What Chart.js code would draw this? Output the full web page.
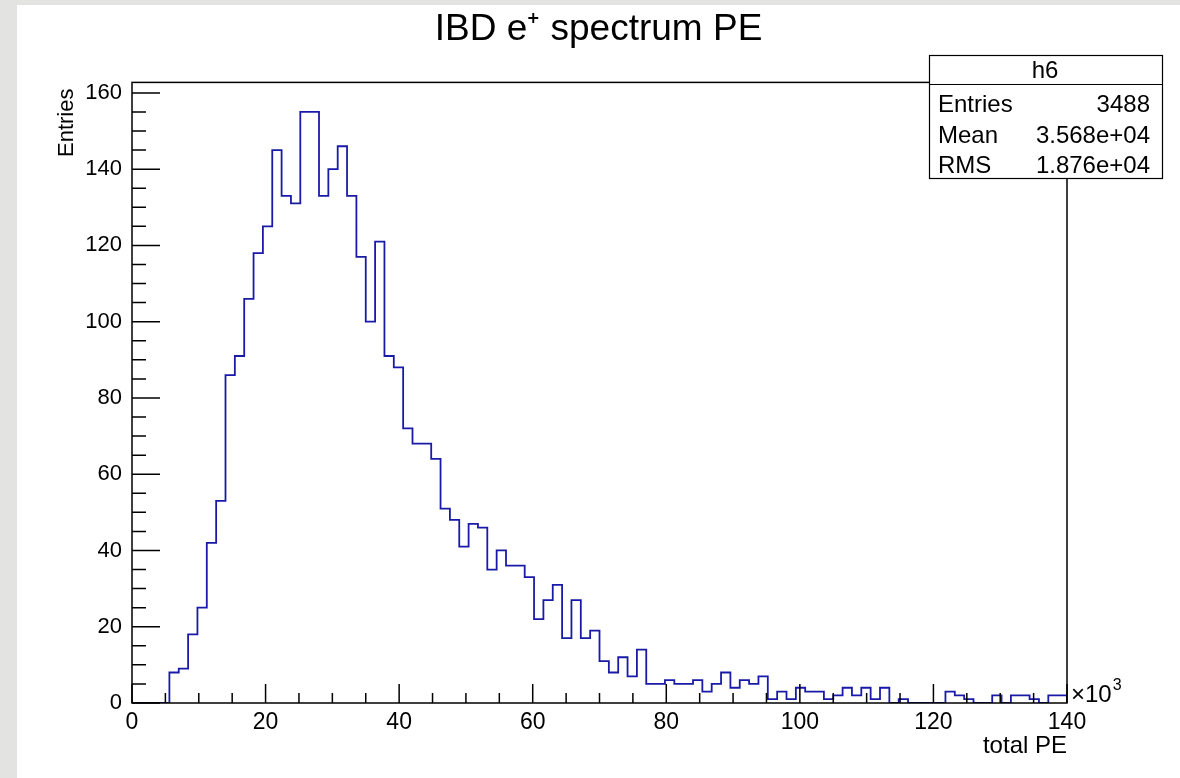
<!DOCTYPE html>
<html>
<head>
<meta charset="utf-8">
<script src="https://cdn.jsdelivr.net/npm/chart.js@4.4.1/dist/chart.umd.min.js"></script>
<style>
  body { margin: 0; background: #e3e3e1; }
  .sheet { position: absolute; left: 17px; top: 5px; right: 0; bottom: 0; background: #fff; }
  #myChart { position: absolute; left: 0; top: 0; }
</style>
</head>
<body>
<div class="sheet"></div>
<canvas id="myChart" width="1180" height="778"></canvas>
<script>
// histogram h6: 100 bins from 0 to 140 (x10^3 PE)
const xMin = 0
const xMax = 140
const nBins = 100
const counts = [
    0, 0, 0, 0, 8, 9, 18, 25, 42, 53,
    86, 91, 106, 118, 125, 145, 133, 131, 155, 155,
    133, 140, 146, 133, 117, 100, 121, 91, 88, 72,
    68, 68, 64, 51, 48, 41, 47, 46, 35, 40,
    36, 36, 33, 22, 27, 31, 17, 27, 17, 19,
    11, 8, 12, 7, 14, 5, 5, 6, 5, 5,
    6, 3, 5, 8, 4, 6, 5, 7, 1, 3,
    1, 4, 3, 3, 1, 2, 4, 2, 4, 1,
    4, 0, 1, 0, 0, 0, 0, 3, 2, 1,
    0, 0, 2, 0, 2, 2, 1, 0, 2, 2
]
const xTicks = [0, 20, 40, 60, 80, 100, 120, 140]
const yTicks = [0, 20, 40, 60, 80, 100, 120, 140, 160]
const yMax = 162.75
const statNames = ['Entries', 'Mean', 'RMS']
const statValues = ['3488', '3.568e+04', '1.876e+04']

const font = "'Liberation Sans', Arial, Helvetica, sans-serif"
const lineColor = '#1a1aa8'

// bin edges -> stepped outline points
const points = [{x: xMin, y: 0}]
const binWidth = (xMax - xMin) / nBins
counts.forEach((c, i) => {
    points.push({x: xMin + i * binWidth, y: c})
})
points.push({x: xMax, y: counts[nBins - 1]})
points.push({x: xMax, y: 0})

const rootFrame = {
    id: 'rootFrame',
    afterDatasetsDraw(chart) {
        const c = chart.ctx
        const a = chart.chartArea
        const xs = chart.scales.x
        const ys = chart.scales.y
        c.save()
        c.strokeStyle = '#000'
        c.lineWidth = 1.5
        c.strokeRect(a.left, a.top, a.right - a.left, a.bottom - a.top)

        // ticks point inward like ROOT
        c.beginPath()
        for (let v = xMin; v <= xMax; v += 5) {
            const px = xs.getPixelForValue(v)
            const len = v % 20 === 0 ? 19 : 10
            c.moveTo(px, a.bottom)
            c.lineTo(px, a.bottom - len)
        }
        for (let v = 0; v <= yMax; v += 5) {
            const py = ys.getPixelForValue(v)
            const len = v % 20 === 0 ? 28 : 14
            c.moveTo(a.left, py)
            c.lineTo(a.left + len, py)
        }
        c.stroke()

        // x10^3 exponent
        c.fillStyle = '#000'
        c.textBaseline = 'alphabetic'
        c.textAlign = 'left'
        c.font = '24px ' + font
        c.fillText('\u00d710', a.right + 4, a.bottom - 1)
        const w = c.measureText('\u00d710').width
        c.font = '16px ' + font
        c.fillText('3', a.right + 4 + w + 1, a.bottom - 13)

        // stats box
        const bx = 929, by = 55, bw = 233, bh = 123
        c.fillStyle = '#fff'
        c.fillRect(bx, by, bw, bh)
        c.lineWidth = 1.2
        c.strokeRect(bx + 0.5, by + 0.5, bw, bh)
        c.beginPath()
        c.moveTo(bx, 84.5)
        c.lineTo(bx + bw, 84.5)
        c.stroke()
        c.fillStyle = '#000'
        c.font = '24px ' + font
        c.textAlign = 'center'
        c.fillText('h6', 1045, 78)
        statNames.forEach((n, i) => {
            const base = 112 + i * 30.5
            c.textAlign = 'left'
            c.fillText(n, 938, base)
            c.textAlign = 'right'
            c.fillText(statValues[i], 1150, base)
        })
        c.restore()
    }
}

const ctx = document.getElementById('myChart')

new Chart(ctx, {
    type: 'line',
    data: {
        datasets: [{
            label: 'h6',
            data: points,
            borderColor: lineColor,
            borderWidth: 1.8,
            pointRadius: 0,
            fill: false,
            stepped: 'before'
        }]
    },
    options: {
        responsive: false,
        animation: false,
        layout: {
            padding: {left: 17, top: 0, right: 0, bottom: 15}
        },
        plugins: {
            legend: {display: false},
            tooltip: {enabled: false},
            title: {
                display: true,
                text: 'IBD e\u207a spectrum PE',
                color: '#000',
                font: {family: font, size: 37, weight: 'normal'},
                padding: {top: 8, bottom: 30}
            }
        },
        scales: {
            x: {
                type: 'linear',
                min: xMin,
                max: xMax,
                afterBuildTicks: scale => {
                    scale.ticks = xTicks.map(v => ({value: v}))
                },
                afterFit: scale => {
                    scale.height = 60
                },
                grid: {display: false, drawTicks: false},
                border: {display: false},
                ticks: {
                    color: '#000',
                    font: {family: font, size: 23},
                    padding: 6,
                    maxRotation: 0
                },
                title: {
                    display: true,
                    text: 'total PE',
                    align: 'end',
                    color: '#000',
                    font: {family: font, size: 24},
                    padding: {top: 0, bottom: 2}
                }
            },
            y: {
                type: 'linear',
                min: 0,
                max: yMax,
                afterBuildTicks: scale => {
                    scale.ticks = yTicks.map(v => ({value: v}))
                },
                afterFit: scale => {
                    scale.width = 115
                },
                grid: {display: false, drawTicks: false},
                border: {display: false},
                ticks: {
                    color: '#000',
                    font: {family: font, size: 22},
                    padding: 10
                },
                title: {
                    display: true,
                    text: 'Entries ',
                    align: 'end',
                    color: '#000',
                    font: {family: font, size: 22},
                    padding: {top: 37, bottom: 0}
                }
            },
            // empty right-hand axis only reserves the pad margin
            yRight: {
                type: 'linear',
                position: 'right',
                min: 0,
                max: yMax,
                afterFit: scale => {
                    scale.width = 113
                },
                grid: {display: false, drawTicks: false},
                border: {display: false},
                ticks: {display: false}
            }
        }
    },
    plugins: [rootFrame]
});
</script>
</body>
</html>
